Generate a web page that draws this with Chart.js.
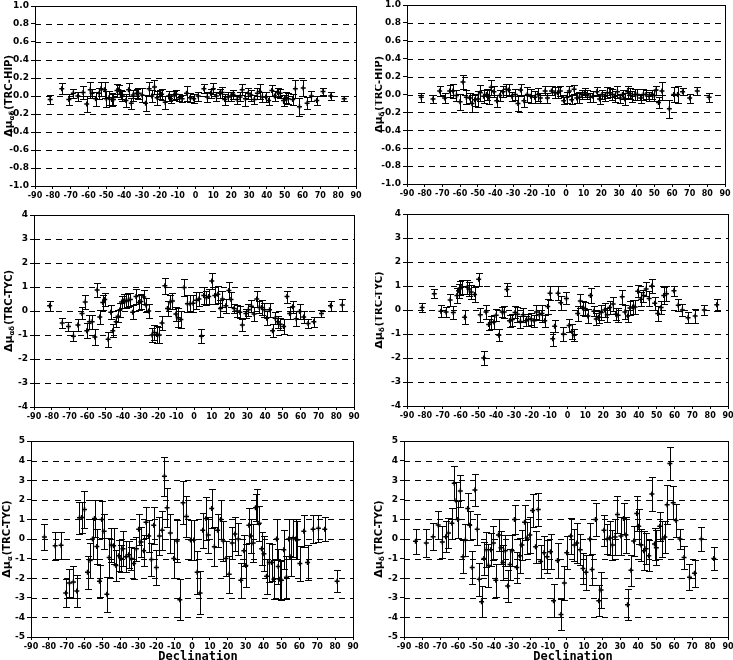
<!DOCTYPE html>
<html>
<head>
<meta charset="utf-8">
<script src="https://cdn.jsdelivr.net/npm/chart.js@4.4.1/dist/chart.umd.min.js"></script>
<style>
  html, body { margin: 0; padding: 0; background: #fff; }
  body { width: 733px; height: 660px; position: relative; overflow: hidden; }
  canvas { position: absolute; }
  .xlabel { position: absolute; font: bold 12px "DejaVu Sans Mono"; line-height: 14px; color: #000; transform: translateX(-50%); white-space: nowrap; }
</style>
</head>
<body>
<script>
// ---- axis ticks ----
const xTicks = [-90, -80, -70, -60, -50, -40, -30, -20, -10, 0, 10, 20, 30, 40, 50, 60, 70, 80, 90];
const yTicksHip = [-1.0, -0.8, -0.6, -0.4, -0.2, 0.0, 0.2, 0.4, 0.6, 0.8, 1.0];
const yTicksTyc = [-4, -3, -2, -1, 0, 1, 2, 3, 4];
const yTicksTyc2 = [-5, -4, -3, -2, -1, 0, 1, 2, 3, 4, 5];

// ---- TRC-HIP, mu alpha-delta ----
const hipRaDec = [-81.5, -75, -71, -68.5, -66, -63, -61, -59, -58, -56, -54, -53, -51, -50, -48.5, -47, -46, -44, -43, -42, -41, -39, -37.5, -36, -35, -33, -32, -30, -28, -26, -24.5, -23, -21.5, -20, -19, -17, -15, -14, -12, -11, -9, -7.5, -5, -3, -1, 1.5, 4.7, 6.6, 8.5, 10, 11.7, 13.6, 15, 16.4, 18.3, 20, 21, 23.4, 25, 26.2, 28, 29.6, 31, 33, 34.7, 36, 37.5, 39.4, 41, 42.8, 44.3, 46, 47.5, 49.4, 50.7, 52, 54.5, 56, 58.3, 60.4, 62.6, 65, 68, 71.5, 75.8, 83.4];
const hipRaVal = [-0.04, 0.08, -0.04, 0.03, 0.0, 0.04, -0.09, 0.07, 0.03, -0.03, 0.03, 0.08, 0.07, -0.03, -0.02, -0.04, -0.04, 0.06, 0.07, 0.02, 0.0, -0.05, 0.07, -0.08, 0.01, 0.03, 0.03, 0.01, -0.08, 0.08, 0.0, 0.1, -0.02, 0.02, 0.02, -0.07, 0.0, -0.03, 0.01, 0.02, -0.02, -0.03, 0.03, -0.02, -0.03, 0.0, 0.08, -0.01, 0.03, 0.08, 0.0, 0.03, 0.04, -0.04, -0.01, 0.0, 0.02, -0.04, -0.01, 0.07, -0.03, 0.03, 0.01, -0.04, 0.03, 0.05, -0.01, -0.01, -0.05, 0.06, 0.0, 0.04, 0.03, -0.05, -0.02, -0.03, -0.04, 0.08, -0.12, 0.09, -0.08, 0.0, -0.05, 0.05, 0.0, -0.03];
const hipRaErr = [0.05, 0.06, 0.06, 0.05, 0.05, 0.07, 0.09, 0.09, 0.05, 0.08, 0.06, 0.08, 0.09, 0.09, 0.08, 0.07, 0.06, 0.07, 0.05, 0.05, 0.06, 0.07, 0.07, 0.06, 0.06, 0.05, 0.06, 0.08, 0.09, 0.08, 0.07, 0.08, 0.08, 0.05, 0.06, 0.07, 0.06, 0.05, 0.05, 0.05, 0.04, 0.04, 0.08, 0.05, 0.05, 0.05, 0.05, 0.06, 0.05, 0.06, 0.05, 0.05, 0.06, 0.06, 0.05, 0.05, 0.05, 0.05, 0.05, 0.06, 0.08, 0.06, 0.06, 0.05, 0.06, 0.08, 0.06, 0.06, 0.05, 0.06, 0.06, 0.05, 0.05, 0.06, 0.06, 0.06, 0.06, 0.1, 0.1, 0.09, 0.07, 0.06, 0.05, 0.04, 0.04, 0.03];

// ---- TRC-HIP, mu delta ----
const hipDeDec = [-81.9, -75.3, -71.5, -68.7, -65.8, -64, -62, -60, -58.3, -56.4, -54.5, -53.2, -51.7, -49.8, -48.5, -46.6, -45, -43.8, -42.3, -40.8, -39.2, -37.4, -35.7, -33.8, -32.5, -30.6, -28.7, -27.2, -25.7, -23.8, -21.9, -20, -17.7, -15.8, -14.5, -11.8, -10.5, -8.2, -6.3, -4.8, -3.2, -1.3, 0.6, 1.9, 3.2, 4.6, 6.1, 7.6, 9, 10.5, 12, 13.7, 15.2, 17.5, 19, 20.4, 21.9, 23.4, 24.8, 26.3, 27.6, 29.1, 30.7, 32, 33.3, 34.9, 36.2, 37.5, 39, 40.4, 42.3, 43.8, 45.3, 47, 48.6, 50, 51, 52.4, 54.3, 58.5, 61, 63.2, 66, 70, 74.3, 81];
const hipDeVal = [-0.03, -0.05, 0.04, -0.04, 0.04, 0.04, -0.01, -0.08, 0.14, -0.03, -0.04, -0.1, -0.06, -0.05, 0.02, -0.02, 0.0, -0.03, 0.08, 0.03, -0.07, -0.01, 0.03, 0.06, 0.05, -0.02, 0.0, -0.1, 0.05, -0.07, 0.0, -0.02, -0.03, 0.0, -0.04, 0.04, -0.04, 0.04, 0.02, 0.02, 0.04, -0.07, -0.03, 0.04, -0.06, 0.06, -0.04, -0.03, 0.0, 0.02, 0.0, -0.03, -0.02, 0.03, -0.05, 0.0, -0.02, 0.02, 0.02, 0.0, -0.02, 0.03, -0.04, 0.0, -0.05, 0.03, 0.01, -0.02, 0.0, 0.0, -0.04, 0.0, 0.0, -0.02, 0.0, -0.01, 0.05, -0.09, 0.04, -0.16, 0.0, 0.0, 0.03, -0.04, 0.04, -0.03];
const hipDeErr = [0.05, 0.05, 0.06, 0.06, 0.07, 0.08, 0.06, 0.09, 0.08, 0.08, 0.06, 0.1, 0.07, 0.09, 0.09, 0.07, 0.06, 0.08, 0.08, 0.06, 0.07, 0.06, 0.06, 0.06, 0.07, 0.05, 0.06, 0.08, 0.07, 0.07, 0.08, 0.08, 0.07, 0.07, 0.06, 0.05, 0.06, 0.05, 0.06, 0.06, 0.06, 0.04, 0.06, 0.06, 0.05, 0.05, 0.06, 0.06, 0.05, 0.05, 0.05, 0.05, 0.06, 0.05, 0.06, 0.05, 0.05, 0.06, 0.05, 0.06, 0.06, 0.07, 0.05, 0.05, 0.07, 0.07, 0.06, 0.06, 0.06, 0.06, 0.05, 0.06, 0.05, 0.05, 0.05, 0.06, 0.05, 0.06, 0.1, 0.1, 0.08, 0.09, 0.04, 0.05, 0.04, 0.05];

// ---- TRC-TYC, mu alpha-delta ----
const tycRaDec = [-81.2, -74.1, -70.6, -67.8, -65.3, -63, -61.2, -60.3, -58.8, -57.3, -55.8, -54.5, -53, -51.3, -50.2, -48.3, -46.8, -45.7, -43.8, -42.7, -41.6, -40.7, -39.5, -38.2, -36.9, -35.8, -34.5, -32.6, -31.1, -29.8, -28.3, -27, -25.5, -23.6, -22.3, -21, -19.5, -18, -16.4, -14.9, -13.4, -12.1, -10.2, -8.9, -7.4, -5.5, -3.7, -2.2, -0.5, 1.4, 2.8, 4.2, 5.5, 7, 8.3, 10, 11.7, 13.4, 14.9, 16, 17.9, 19.6, 20.8, 22.6, 24.3, 25.8, 27.2, 29.2, 30.6, 32.3, 33.8, 35.3, 36.8, 38.1, 39.6, 40.9, 42.5, 44.2, 45.7, 47, 48.5, 50.4, 52.3, 53.8, 55.5, 57.5, 59.4, 61.7, 64.2, 67.4, 71.7, 76.8, 83.4];
const tycRaVal = [0.22, -0.5, -0.65, -1.05, -0.58, -0.1, 0.38, -0.82, -0.45, -0.45, -1.08, 0.87, -0.25, 0.35, 0.48, -1.18, -0.05, -0.82, -0.45, -0.22, 0.05, 0.38, 0.42, 0.42, 0.45, 0.48, -0.05, 0.6, 0.35, 0.4, 0.58, 0.25, 0.0, -1.0, -0.9, -0.98, -1.0, -0.5, 1.05, 0.1, 0.38, 0.42, -0.12, -0.28, -0.35, 0.98, 0.3, 0.3, 0.32, 0.45, 0.5, -1.05, 0.65, 0.55, 0.6, 1.25, 0.65, 0.7, 0.1, 0.5, 0.22, 0.85, 0.48, 0.1, 0.0, -0.05, -0.58, -0.1, 0.05, 0.2, -0.12, 0.5, 0.15, 0.15, 0.05, -0.3, 0.05, -0.82, -0.3, -0.45, -0.55, -0.65, 0.6, -0.1, 0.18, -0.32, -0.02, -0.25, -0.52, -0.45, -0.1, 0.22, 0.25];
const tycRaErr = [0.2, 0.2, 0.2, 0.22, 0.25, 0.25, 0.3, 0.32, 0.3, 0.3, 0.32, 0.3, 0.3, 0.3, 0.28, 0.3, 0.3, 0.28, 0.2, 0.25, 0.28, 0.25, 0.28, 0.28, 0.28, 0.28, 0.28, 0.3, 0.3, 0.3, 0.3, 0.3, 0.3, 0.3, 0.3, 0.35, 0.35, 0.3, 0.33, 0.3, 0.3, 0.35, 0.3, 0.4, 0.35, 0.35, 0.35, 0.35, 0.35, 0.35, 0.3, 0.3, 0.35, 0.3, 0.3, 0.35, 0.35, 0.35, 0.35, 0.35, 0.3, 0.35, 0.3, 0.2, 0.25, 0.25, 0.25, 0.2, 0.25, 0.25, 0.3, 0.33, 0.25, 0.3, 0.3, 0.3, 0.28, 0.28, 0.25, 0.25, 0.25, 0.3, 0.25, 0.25, 0.25, 0.3, 0.3, 0.25, 0.2, 0.2, 0.15, 0.2, 0.25];

// ---- TRC-TYC, mu delta ----
const tycDeDec = [-81.5, -74.7, -71, -68.1, -65.8, -64, -62, -61.1, -60.2, -59.2, -57.7, -56.2, -55.1, -54, -52.1, -49.8, -48.9, -47, -45.7, -44.2, -42.8, -41.3, -40, -38.5, -36.6, -35.5, -34, -32.5, -30.9, -29.4, -28.1, -26.4, -24.9, -23.4, -21.9, -20.4, -18.7, -17.4, -15.8, -14.3, -12.8, -11.1, -9.8, -8.3, -7.2, -5.3, -3.8, -2.3, -0.6, 0.9, 2.5, 3.8, 5.7, 7.2, 8.5, 10, 11.4, 12.9, 14.8, 16.1, 17.4, 18.9, 20.8, 22.3, 23.7, 25.6, 27.1, 28.4, 30.7, 32.2, 33.7, 35, 36.6, 37.9, 39.4, 41.1, 42.6, 44.1, 45.8, 47.3, 48.9, 50.6, 52.5, 54, 55.5, 59.7, 62.1, 64.4, 67.6, 71.6, 76.7, 83.7];
const tycDeVal = [0.1, 0.68, -0.05, -0.08, 0.42, -0.1, 0.6, 0.8, 0.92, 0.95, -0.3, 0.95, 0.88, 0.75, 0.65, 1.28, -0.2, -2.0, -0.08, -0.6, -0.52, -0.5, -0.22, -1.05, -0.08, -0.08, 0.85, -0.45, -0.4, -0.1, -0.18, -0.48, -0.2, -0.45, -0.4, -0.38, -0.45, -0.08, -0.2, -0.15, -0.45, 0.15, 0.7, -1.2, -0.68, 0.7, 0.3, -1.0, 0.48, -0.65, -0.9, -1.05, -0.15, 0.38, 0.08, 0.05, -0.25, 0.6, -0.05, -0.38, -0.3, -0.1, 0.0, -0.2, 0.1, 0.25, -0.18, -0.22, 0.55, -0.08, -0.25, 0.08, 0.12, 0.12, 0.78, 0.45, 0.6, 0.88, 0.48, 1.0, 0.28, -0.15, 0.1, 0.6, 0.68, 0.8, 0.2, 0.0, -0.32, -0.25, 0.0, 0.22];
const tycDeErr = [0.2, 0.2, 0.25, 0.22, 0.25, 0.28, 0.3, 0.3, 0.3, 0.3, 0.3, 0.3, 0.3, 0.3, 0.3, 0.28, 0.3, 0.28, 0.28, 0.22, 0.28, 0.3, 0.25, 0.25, 0.22, 0.25, 0.28, 0.25, 0.25, 0.25, 0.3, 0.25, 0.3, 0.2, 0.25, 0.25, 0.25, 0.28, 0.2, 0.35, 0.25, 0.3, 0.3, 0.3, 0.25, 0.3, 0.3, 0.3, 0.25, 0.28, 0.3, 0.25, 0.3, 0.3, 0.3, 0.3, 0.28, 0.3, 0.22, 0.25, 0.25, 0.3, 0.3, 0.3, 0.28, 0.3, 0.25, 0.3, 0.3, 0.28, 0.25, 0.28, 0.3, 0.28, 0.25, 0.28, 0.25, 0.3, 0.3, 0.3, 0.28, 0.3, 0.28, 0.35, 0.3, 0.22, 0.25, 0.25, 0.22, 0.3, 0.22, 0.25];

// ---- TRC-TYC (faint sample), mu alpha ----
const faintRaDec = [-82.5, -76.5, -73.2, -70.6, -68.5, -66.3, -64.4, -62.9, -61.6, -60.1, -58.4, -56.9, -55.6, -54.5, -53.2, -51.7, -50.4, -49.1, -47.6, -46.3, -45.1, -43.8, -42.5, -41, -39.7, -38.6, -36.9, -35.4, -33.9, -32.6, -31.1, -29.8, -28.5, -27, -25.7, -24.2, -22.7, -21.4, -19.9, -18.2, -16.7, -15.4, -13.9, -12.1, -10.2, -8.3, -6.8, -5, -3.1, -0.8, 1, 2.9, 4.5, 6, 7.8, 9.1, 11, 12.5, 14.3, 16, 17.5, 19, 20.8, 22.5, 24, 25.9, 27.3, 29, 30.1, 31.8, 32.9, 34.2, 35.5, 36.5, 37.6, 38.9, 40.2, 41.7, 43.2, 44.5, 45.8, 47.3, 48.2, 49.1, 50, 51.3, 52.8, 54.1, 55.3, 56.6, 58, 58.8, 60.3, 62.5, 64.6, 67.7, 70.7, 74.2, 81.1];
const faintRaVal = [0.1, -0.35, -0.32, -2.75, -2.25, -2.2, -2.65, 1.08, 1.1, 1.5, -1.7, -1.1, 0.0, 1.05, -0.38, -2.15, 1.0, 0.4, -2.82, -0.95, -0.3, -0.35, -1.35, -0.85, -1.0, -0.5, -0.9, -0.8, -1.0, -1.25, -0.5, 0.5, -0.15, -0.6, 0.85, 0.15, -1.05, 0.7, -1.45, 0.15, 0.45, 3.2, 1.6, 0.3, -1.0, -0.1, -3.1, 1.85, 1.15, -0.05, -0.05, -1.7, -2.75, 0.45, 1.05, 0.2, 1.55, -0.4, 0.45, 1.0, -0.1, -1.0, -1.8, -0.2, 0.25, 0.0, -2.1, -0.6, -1.35, 0.7, 0.15, -0.2, 1.6, 1.65, 0.8, -0.5, -0.75, -1.9, -1.2, -1.2, -2.05, 0.0, -1.4, -2.05, -2.1, -0.55, -1.95, 0.0, -0.9, 0.05, 0.0, -0.05, -1.25, 0.4, -1.2, 0.5, 0.55, 0.5, -2.15];
const faintRaErr = [0.65, 0.7, 0.7, 0.7, 0.7, 0.8, 0.8, 0.8, 0.8, 0.95, 0.85, 0.9, 1.0, 0.95, 0.9, 0.8, 0.95, 0.9, 0.9, 1.0, 0.85, 0.9, 0.8, 0.8, 0.7, 0.9, 0.8, 0.7, 0.6, 0.8, 0.6, 0.8, 0.75, 0.8, 0.8, 0.8, 0.85, 0.95, 0.9, 0.95, 1.0, 1.0, 1.0, 1.0, 1.0, 1.05, 1.05, 1.1, 1.05, 1.0, 1.0, 1.1, 1.1, 0.9, 1.1, 0.9, 1.0, 1.0, 0.85, 1.0, 1.0, 0.9, 0.95, 0.8, 0.85, 0.8, 0.9, 0.8, 1.1, 0.9, 0.85, 0.95, 0.7, 0.9, 0.9, 0.85, 0.9, 0.9, 1.0, 0.95, 1.0, 1.0, 0.9, 1.0, 1.0, 1.0, 1.1, 1.0, 1.0, 0.95, 1.0, 0.95, 0.9, 0.8, 0.9, 0.7, 0.7, 0.6, 0.55];

// ---- TRC-TYC (faint sample), mu delta ----
const faintDeDec = [-83.6, -77.6, -73.8, -71, -68.7, -66.8, -65.3, -63.4, -62.1, -61, -60.1, -58.7, -57.2, -55.9, -54.6, -53.5, -52.1, -50.6, -49.3, -48.2, -46.9, -45.6, -44.2, -43.1, -41.8, -40.3, -39, -37.5, -36.1, -35, -33.7, -32.4, -31.1, -29.9, -28.6, -27.3, -25.8, -24.5, -23, -21.6, -20.1, -18.6, -16.9, -15.4, -14.1, -12.2, -10.5, -8.6, -6.9, -4.7, -2.8, -0.9, 0.4, 2.6, 4.7, 6, 7.9, 9.4, 11.1, 13.2, 14.5, 16.4, 18.2, 19.5, 21.1, 22.9, 24.2, 25.8, 27.3, 28.6, 30.5, 32, 33.3, 34.2, 36.1, 37.6, 39.3, 40.4, 41.7, 43.2, 44.5, 46, 47.7, 49.2, 50.2, 52.1, 53.6, 54.9, 56.2, 57.7, 59.6, 61.1, 63.3, 65.6, 68.6, 71.4, 75.2, 82.1];
const faintDeVal = [-0.12, -0.2, 0.12, 0.72, -0.15, 0.12, 0.3, 0.8, 2.85, 1.95, 1.0, 2.45, -0.9, -0.05, 1.55, 0.7, -1.45, 2.5, 0.5, -2.05, -3.2, -1.0, -0.55, -1.35, -0.55, -0.2, -2.1, 0.2, -0.45, -1.2, -0.6, -2.4, -1.3, -0.6, 1.0, -1.45, -0.85, -0.3, 0.85, 0.05, 0.2, 1.45, -0.4, 1.5, -1.15, -0.7, -0.9, -0.65, -3.15, -1.1, -3.85, -2.25, -0.7, 0.15, -0.3, -0.2, -0.55, -1.5, -1.7, 0.0, -1.55, 1.0, -3.15, -2.6, 0.45, 0.0, 0.05, -0.3, 0.1, 1.25, 0.15, 1.05, 0.2, -3.35, -1.6, -0.1, 1.3, 0.65, -0.3, -0.6, -0.5, -0.85, 2.3, -0.25, -0.45, 0.65, 0.0, 0.1, 1.75, 3.85, 1.85, 0.95, 0.0, -0.95, -1.95, -1.75, 0.0, -1.0];
const faintDeErr = [0.65, 0.7, 0.7, 0.7, 0.8, 0.8, 0.75, 0.8, 0.85, 0.95, 0.95, 0.8, 0.85, 0.8, 0.8, 0.75, 0.85, 0.8, 0.8, 0.85, 0.8, 0.85, 0.9, 1.1, 0.85, 0.85, 0.85, 0.8, 0.85, 0.9, 0.8, 0.8, 0.8, 0.8, 0.75, 0.8, 0.9, 0.75, 0.9, 0.8, 0.9, 0.85, 0.8, 0.85, 0.85, 0.85, 0.85, 0.9, 0.85, 0.9, 0.8, 0.85, 0.85, 0.9, 0.8, 1.0, 0.8, 0.8, 0.9, 0.8, 0.8, 0.85, 0.8, 0.9, 0.8, 0.75, 0.85, 0.75, 0.9, 0.95, 0.95, 0.8, 0.9, 0.8, 0.8, 0.75, 0.9, 0.9, 0.8, 1.0, 0.8, 0.8, 0.85, 0.8, 0.9, 0.75, 0.9, 0.8, 1.0, 0.85, 0.85, 0.85, 0.5, 0.6, 0.65, 0.7, 0.6, 0.6];

// ---- panel layout (plot area in page pixels) ----
const panels = [
  { dec: hipRaDec, val: hipRaVal, err: hipRaErr, yTicks: yTicksHip, digits: 1, sub: 'αδ', ref: '(TRC-HIP)', area: { l: 35, r: 356, t: 6, b: 186 }, titleOff: 26 },
  { dec: hipDeDec, val: hipDeVal, err: hipDeErr, yTicks: yTicksHip, digits: 1, sub: 'δ', ref: '(TRC-HIP)', area: { l: 407, r: 725, t: 5, b: 184 }, titleOff: 28 },
  { dec: tycRaDec, val: tycRaVal, err: tycRaErr, yTicks: yTicksTyc, digits: 0, sub: 'αδ', ref: '(TRC-TYC)', area: { l: 34, r: 354, t: 215, b: 407 }, titleOff: 25 },
  { dec: tycDeDec, val: tycDeVal, err: tycDeErr, yTicks: yTicksTyc, digits: 0, sub: 'δ', ref: '(TRC-TYC)', area: { l: 407, r: 728, t: 214, b: 406 }, titleOff: 28 },
  { dec: faintRaDec, val: faintRaVal, err: faintRaErr, yTicks: yTicksTyc2, digits: 0, sub: 'α', ref: '(TRC-TYC)', area: { l: 31, r: 353, t: 441, b: 637 }, titleOff: 24 },
  { dec: faintDeDec, val: faintDeVal, err: faintDeErr, yTicks: yTicksTyc2, digits: 0, sub: 'δ', ref: '(TRC-TYC)', area: { l: 404, r: 728, t: 441, b: 637 }, titleOff: 25 }
];

const Y_AXIS_W = 32, X_AXIS_H = 20, PAD_T = 8, PAD_R = 12;
const tickFontY = { family: 'DejaVu Sans', size: 9, weight: 'bold' };
const tickFontX = { family: 'DejaVu Sans', size: 8, weight: 'bold' };

function makePanel(p) {
  const a = p.area;
  const canvas = document.createElement('canvas');
  canvas.width = a.r - a.l + Y_AXIS_W + PAD_R;
  canvas.height = a.b - a.t + PAD_T + X_AXIS_H;
  canvas.style.left = (a.l - Y_AXIS_W) + 'px';
  canvas.style.top = (a.t - PAD_T) + 'px';
  document.body.appendChild(canvas);

  // dashed grid + frame
  const framePlugin = {
    id: 'frame',
    beforeDatasetsDraw(chart) {
      const { ctx, chartArea: ca, scales: { y } } = chart;
      ctx.save();
      ctx.strokeStyle = '#000';
      ctx.lineWidth = 1;
      ctx.setLineDash([6, 5]);
      ctx.beginPath();
      p.yTicks.forEach(v => {
        if (v <= y.min || v >= y.max) return;
        const yy = Math.round(y.getPixelForValue(v)) + 0.5;
        ctx.moveTo(ca.left, yy);
        ctx.lineTo(ca.right, yy);
      });
      ctx.stroke();
      ctx.setLineDash([]);
      ctx.strokeRect(Math.round(ca.left) + 0.5, Math.round(ca.top) + 0.5,
        Math.round(ca.right - ca.left), Math.round(ca.bottom - ca.top));
      ctx.restore();
    }
  };

  // error bars with caps
  const errorBarPlugin = {
    id: 'errorBars',
    afterDatasetsDraw(chart) {
      const { ctx, scales: { x, y } } = chart;
      ctx.save();
      ctx.strokeStyle = '#000';
      ctx.lineWidth = 1;
      ctx.beginPath();
      p.dec.forEach((d, i) => {
        const px = Math.round(x.getPixelForValue(d)) + 0.5;
        const y1 = Math.round(y.getPixelForValue(p.val[i] + p.err[i])) + 0.5;
        const y2 = Math.round(y.getPixelForValue(p.val[i] - p.err[i])) + 0.5;
        ctx.moveTo(px, y1); ctx.lineTo(px, y2);
        ctx.moveTo(px - 3.5, y1); ctx.lineTo(px + 3.5, y1);
        ctx.moveTo(px - 3.5, y2); ctx.lineTo(px + 3.5, y2);
      });
      ctx.stroke();
      ctx.restore();
    }
  };

  // rotated y title with subscript
  const yTitlePlugin = {
    id: 'yTitle',
    afterDraw(chart) {
      const { ctx, chartArea: ca } = chart;
      const mainFont = 'bold 11px "DejaVu Sans"';
      const subFont = 'bold 7px "DejaVu Sans"';
      const refFont = 'bold 10px "DejaVu Sans"';
      ctx.save();
      ctx.fillStyle = '#000';
      ctx.textBaseline = 'middle';
      ctx.textAlign = 'left';
      ctx.font = mainFont; const w1 = ctx.measureText('Δμ').width;
      ctx.font = subFont; const w2 = ctx.measureText(p.sub).width + 1;
      ctx.font = refFont; const w3 = ctx.measureText(p.ref).width;
      ctx.translate(ca.left - p.titleOff, (ca.top + ca.bottom) / 2);
      ctx.rotate(-Math.PI / 2);
      let sx = -(w1 + w2 + w3) / 2;
      ctx.font = mainFont; ctx.fillText('Δμ', sx, 0); sx += w1;
      ctx.font = subFont; ctx.fillText(p.sub, sx, 3); sx += w2;
      ctx.font = refFont; ctx.fillText(p.ref, sx, 0);
      ctx.restore();
    }
  };

  const points = p.dec.map((d, i) => ({ x: d, y: p.val[i] }));
  const yMin = p.yTicks[0], yMax = p.yTicks[p.yTicks.length - 1];

  new Chart(canvas, {
    type: 'scatter',
    data: {
      datasets: [{
        data: points,
        pointStyle: 'cross',
        pointRadius: 2.5,
        borderWidth: 1.5,
        borderColor: '#000',
        backgroundColor: '#000'
      }]
    },
    options: {
      responsive: false,
      animation: false,
      events: [],
      layout: { padding: { left: 0, top: PAD_T, right: PAD_R, bottom: 0 } },
      plugins: { legend: { display: false }, tooltip: { enabled: false } },
      scales: {
        x: {
          type: 'linear', min: -90, max: 90,
          afterBuildTicks: s => { s.ticks = xTicks.map(v => ({ value: v })); },
          afterFit: s => { s.height = X_AXIS_H; },
          border: { display: false },
          grid: { drawOnChartArea: false, drawTicks: true, tickLength: 3, color: '#000', tickColor: '#000' },
          ticks: { font: tickFontX, color: '#000', padding: 2, maxRotation: 0, autoSkip: false }
        },
        y: {
          type: 'linear', min: yMin, max: yMax,
          afterBuildTicks: s => { s.ticks = p.yTicks.map(v => ({ value: v })); },
          afterFit: s => { s.width = Y_AXIS_W; },
          border: { display: false },
          grid: { drawOnChartArea: false, drawTicks: true, tickLength: 4, color: '#000', tickColor: '#000' },
          ticks: { font: tickFontY, color: '#000', padding: 2, callback: v => Number(v).toFixed(p.digits) }
        }
      }
    },
    plugins: [framePlugin, errorBarPlugin, yTitlePlugin]
  });
}

panels.forEach(makePanel);

// x axis titles under the bottom row
[[198, 'Declination'], [573, 'Declination']].forEach(([cx, text]) => {
  const el = document.createElement('div');
  el.className = 'xlabel';
  el.style.left = cx + 'px';
  el.style.top = '649px';
  el.textContent = text;
  document.body.appendChild(el);
});
</script>
</body>
</html>
